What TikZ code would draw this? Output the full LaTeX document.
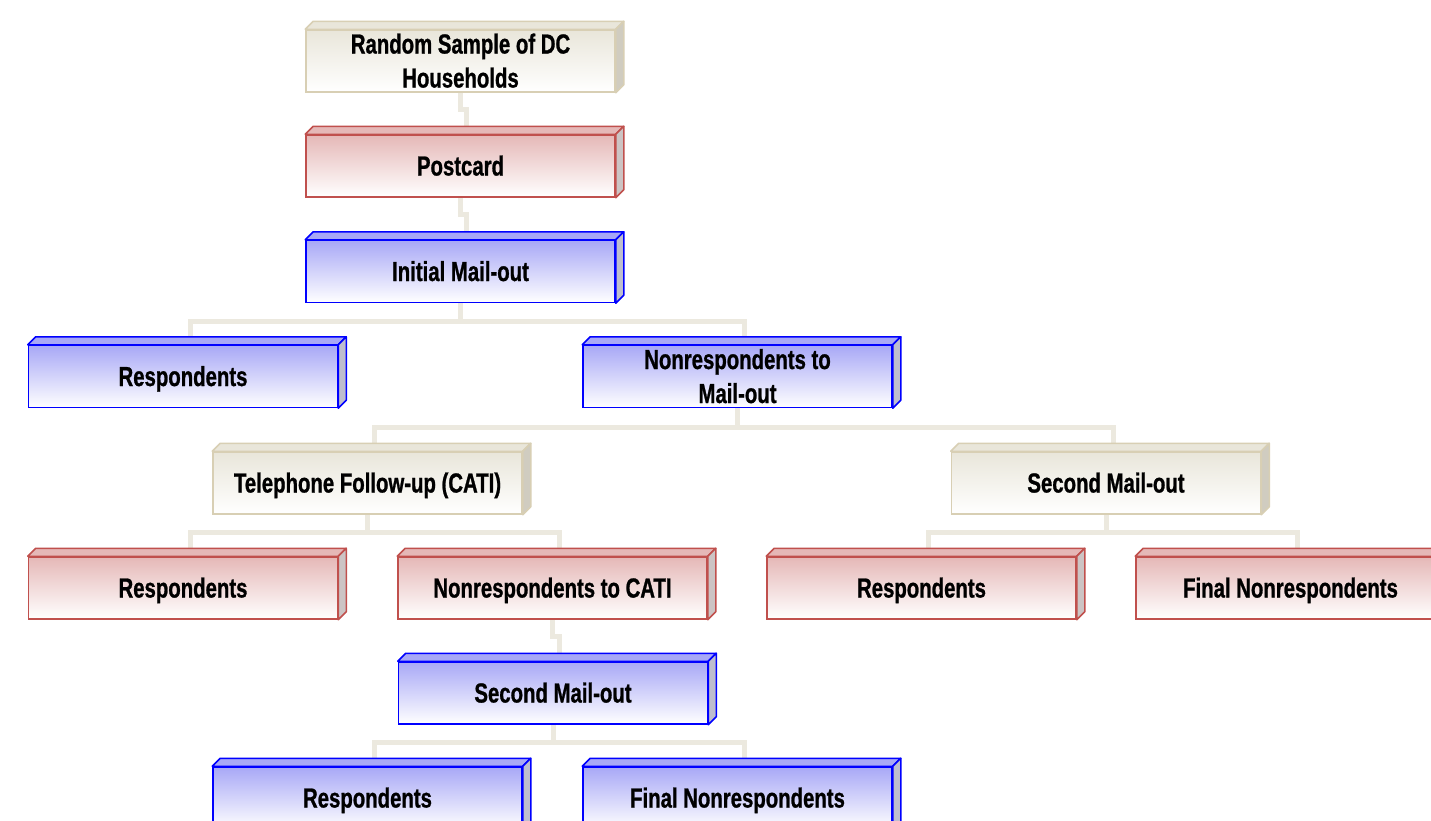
\documentclass[tikz,border=0pt]{standalone}
\usepackage{fontspec}
\newfontfamily\boxfont[FakeStretch=0.74,FakeBold=0.9]{Liberation Sans}
\definecolor{conncol}{RGB}{236,233,223}
\definecolor{bblue}{RGB}{0,0,255}
\definecolor{btop}{RGB}{168,168,246}
\definecolor{bside}{RGB}{190,190,206}
\definecolor{rred}{RGB}{192,80,77}
\definecolor{rtop}{RGB}{229,184,183}
\definecolor{rside}{RGB}{204,196,196}
\definecolor{ybord}{RGB}{216,207,180}
\definecolor{ytop}{RGB}{233,230,218}
\definecolor{yside}{RGB}{208,204,192}
\tikzset{
  box/.style={line width=1.5pt, minimum width=309pt, minimum height=62pt, inner sep=0pt},
  bluebox/.style={box, draw=bblue, top color=btop, bottom color=white},
  redbox/.style={box, draw=rred, top color=rtop, bottom color=white},
  beigebox/.style={box, draw=ybord, top color=ytop, bottom color=white},
  boxlabel/.style={inner sep=0pt, align=center, text height=19pt, text depth=0pt,
    font=\boxfont\bfseries\fontsize{27.5}{34}\selectfont},
  twoline/.style={text height=53pt},
  conn/.style={draw=conncol, line width=5pt},
}
\newcommand\faces[4]{%
  \filldraw[fill=#2, draw=#4, line width=1.5pt, line join=round]
    (#1.north west) -- ([shift={(8pt,8pt)}]#1.north west) -- ([shift={(8pt,8pt)}]#1.north east) -- (#1.north east) -- cycle;
  \filldraw[fill=#3, draw=#4, line width=1.5pt, line join=round]
    (#1.north east) -- ([shift={(8pt,8pt)}]#1.north east) -- ([shift={(8pt,8pt)}]#1.south east) -- (#1.south east) -- cycle;}
\begin{document}
\begin{tikzpicture}[x=1pt,y=-1pt]
\useasboundingbox (0,0) rectangle (1431,820);
\clip (0,0) rectangle (1431,820);
\fill[white] (0,0) rectangle (1431,820);
% node positions
\path
  (460.5,61) coordinate (c-rs)
  (460.5,166) coordinate (c-pc)
  (460.5,271.5) coordinate (c-im)
  (183,376.5) coordinate (c-r1)
  (737.5,376.5) coordinate (c-nm)
  (367.5,483) coordinate (c-tf)
  (1106,483) coordinate (c-sm)
  (183,588) coordinate (c-r2)
  (552.5,588) coordinate (c-nc)
  (921.5,588) coordinate (c-r3)
  (1290.5,588) coordinate (c-f1)
  (553,693) coordinate (c-s2)
  (367.5,798) coordinate (c-r4)
  (737.5,798) coordinate (c-f2);
\foreach \n in {rs,pc,im,r1,nm,tf,sm,r2,nc,r3,f1,s2,r4,f2}
  \node[box] (\n) at (c-\n) {};
% connectors (behind the boxes)
\path[conn] (rs.south) -- ++(0,17) -| ([xshift=6pt]pc.north);
\path[conn] (pc.south) -- ++(0,17) -| ([xshift=6pt]im.north);
\path[conn] (im.south) -- ++(0,18) -| ([xshift=7pt]r1.north);
\path[conn] (im.south) -- ++(0,18) -| ([xshift=7pt]nm.north);
\path[conn] (nm.south) -- ++(0,19) -| ([xshift=7pt]tf.north);
\path[conn] (nm.south) -- ++(0,19) -| ([xshift=7pt]sm.north);
\path[conn] (tf.south) -- ++(0,18) -| ([xshift=7pt]r2.north);
\path[conn] (tf.south) -- ++(0,18) -| ([xshift=7pt]nc.north);
\path[conn] (sm.south) -- ++(0,18) -| ([xshift=7pt]r3.north);
\path[conn] (sm.south) -- ++(0,18) -| ([xshift=7pt]f1.north);
\path[conn] (nc.south) -- ++(0,17) -| ([xshift=6pt]s2.north);
\path[conn] (s2.south) -- ++(0,18) -| ([xshift=7pt]r4.north);
\path[conn] (s2.south) -- ++(0,18) -| ([xshift=7pt]f2.north);
% box bodies
\foreach \n in {rs,tf,sm} {\node[beigebox] at (\n) {}; \faces{\n}{ytop}{yside}{ybord}}
\foreach \n in {pc,r2,nc,r3,f1} {\node[redbox] at (\n) {}; \faces{\n}{rtop}{rside}{rred}}
\foreach \n in {im,r1,nm,s2,r4,f2} {\node[bluebox] at (\n) {}; \faces{\n}{btop}{bside}{bblue}}
% labels
\node[boxlabel, twoline] (rs-t) at (rs.center) {Random Sample of DC\\Households};
\node[boxlabel] (pc-t) at (pc.center) {Postcard};
\node[boxlabel] (im-t) at (im.center) {Initial Mail-out};
\node[boxlabel] (r1-t) at (r1.center) {Respondents};
\node[boxlabel, twoline] (nm-t) at (nm.center) {Nonrespondents to\\Mail-out};
\node[boxlabel] (tf-t) at (tf.center) {Telephone Follow-up (CATI)};
\node[boxlabel] (sm-t) at (sm.center) {Second Mail-out};
\node[boxlabel] (r2-t) at (r2.center) {Respondents};
\node[boxlabel] (nc-t) at (nc.center) {Nonrespondents to CATI};
\node[boxlabel] (r3-t) at (r3.center) {Respondents};
\node[boxlabel] (f1-t) at (f1.center) {Final Nonrespondents};
\node[boxlabel] (s2-t) at (s2.center) {Second Mail-out};
\node[boxlabel] (r4-t) at (r4.center) {Respondents};
\node[boxlabel] (f2-t) at (f2.center) {Final Nonrespondents};
\end{tikzpicture}
\end{document}
